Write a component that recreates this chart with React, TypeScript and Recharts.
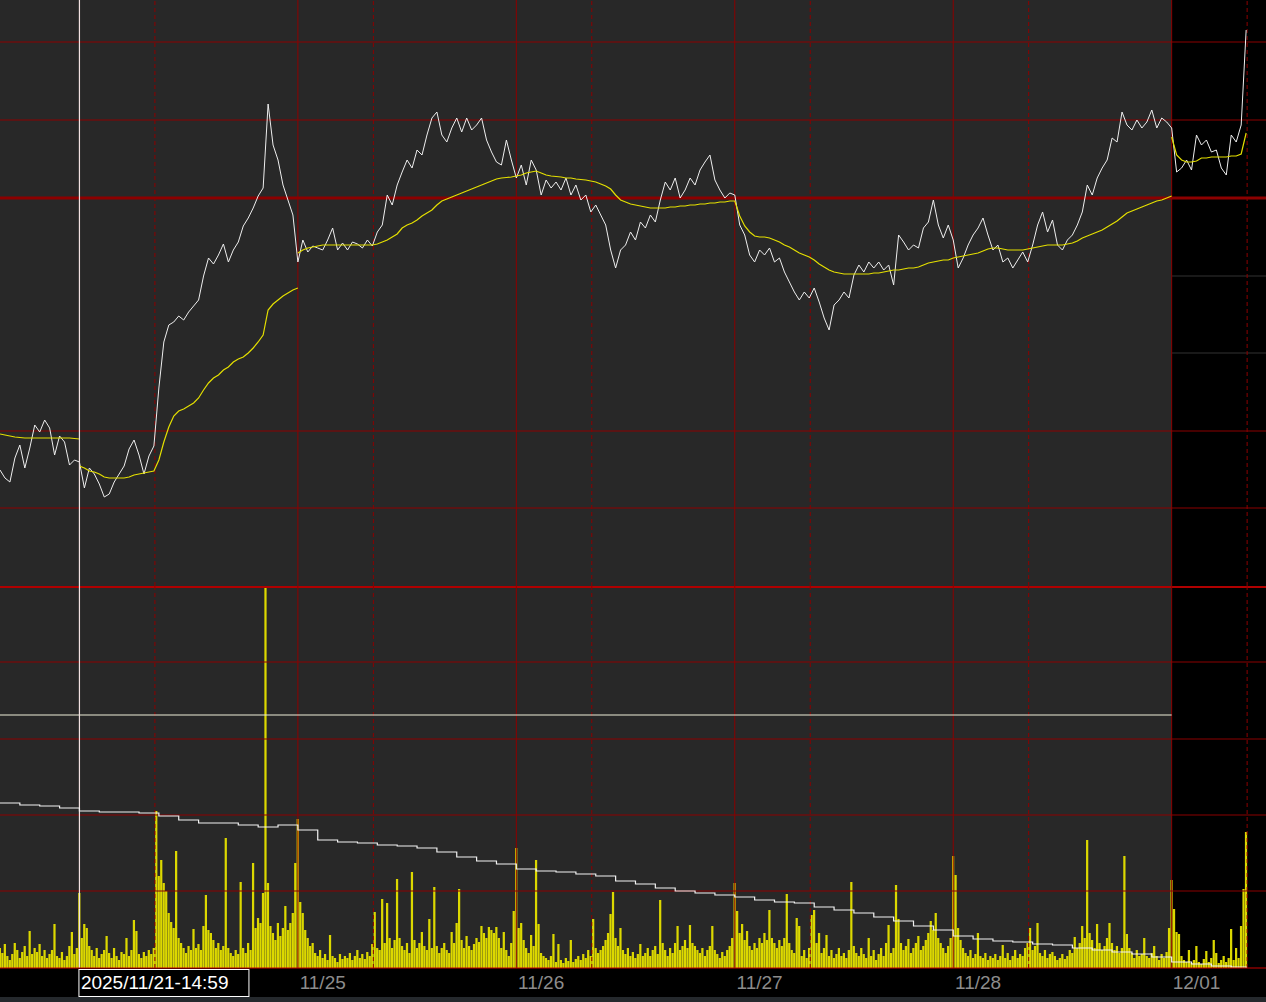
import { ComposedChart, Line, Bar, XAxis, YAxis, ReferenceLine, ReferenceArea } from "recharts"

// x axis is in time slots (about 5 px each), 44 slots per session
const SLOTS = 255
const cursorT = 16
const cursorLabel = "2025/11/21-14:59"
const sessionStarts = [60, 104, 148, 192, 236]
const sessionMarks = [31.2, 75.2, 119.2, 163.2, 207.2, 251.2]
const todayStart = 236
const dayTicks = [65, 109, 153, 197, 241]
const dayLabels = ["11/25", "11/26", "11/27", "11/28", "12/01"]

// price pane levels
const priceGrid = [1558, 1480, 1169, 1092]
const priceGridBold = 1402
const priceGridFaint = [1324, 1247]
// volume pane levels
const volGrid = [306, 229, 153, 77]
const volCursor = 253

// close price, one value per slot (t = 0..251)
const price = [
    1130, 1122, 1118, 1142, 1155, 1132, 1152, 1175, 1168, 1180, 1172, 1145, 1164, 1158, 1135, 1140,
    1138, 1112, 1132, 1126, 1116, 1103, 1106, 1118, 1126, 1134, 1151, 1160, 1145, 1126, 1144, 1154,
    1212, 1258, 1275, 1278, 1284, 1280, 1288, 1294, 1300, 1324, 1342, 1336, 1345, 1356, 1338, 1350,
    1358, 1374, 1382, 1392, 1404, 1412, 1496, 1455, 1440, 1415, 1400, 1385, 1338,
    1360, 1348, 1354, 1352, 1350, 1360, 1372, 1350, 1357, 1350, 1358, 1356, 1352, 1360, 1354,
    1368, 1375, 1405, 1395, 1415, 1428, 1440, 1432, 1450, 1445, 1465, 1482, 1488, 1465, 1458,
    1472, 1482, 1468, 1482, 1470, 1475, 1482, 1460, 1448, 1438, 1435, 1460, 1440, 1422,
    1435, 1415, 1440, 1430, 1405, 1420, 1412, 1418, 1410, 1422, 1405, 1415, 1400, 1405,
    1388, 1395, 1385, 1375, 1350, 1332, 1350, 1355, 1368, 1360, 1378, 1372, 1385, 1378, 1400,
    1418, 1410, 1422, 1402, 1410, 1422, 1415, 1430, 1438, 1445, 1420, 1410, 1402, 1407, 1405,
    1375, 1365, 1345, 1338, 1350, 1345, 1352, 1338, 1342, 1328, 1318, 1308, 1300, 1308, 1302,
    1312, 1298, 1282, 1270, 1295, 1300, 1308, 1302, 1325, 1335, 1328, 1338, 1332, 1338, 1330,
    1335, 1315, 1365, 1358, 1350, 1355, 1352, 1372, 1378, 1400, 1375, 1362, 1375, 1360,
    1332, 1342, 1355, 1365, 1372, 1382, 1365, 1350, 1355, 1338, 1342, 1332, 1340, 1348, 1338,
    1355, 1375, 1388, 1368, 1380, 1355, 1350, 1360, 1365, 1375, 1388, 1415, 1405, 1422, 1432,
    1440, 1462, 1458, 1488, 1475, 1470, 1480, 1472, 1478, 1490, 1472, 1482, 1478, 1472,
    1428, 1432, 1440, 1430, 1465, 1455, 1460, 1448, 1450, 1432, 1425, 1465, 1458, 1475, 1570,
]

// moving average, restarts at some session boundaries
const maA = [1166, 1165, 1164, 1163, 1162.5, 1162, 1162, 1162, 1162, 1162, 1162, 1162, 1162, 1162, 1162, 1161.5, 1161] // t 0..16
const maB = [
    1134, 1132, 1129, 1128, 1126, 1123, 1122, 1122, 1122, 1122, 1123, 1125, 1126, 1127, 1128, 1129,
    1140, 1158, 1173, 1184, 1189, 1191, 1194, 1197, 1202, 1210, 1217, 1222, 1225, 1230, 1233, 1238,
    1241, 1243, 1247, 1252, 1258, 1265, 1290, 1296, 1300, 1304, 1307, 1310, 1312,
] // t 16..60
const maC = [
    1347, 1350, 1352, 1353, 1354,
    1355, 1355, 1355, 1355, 1355, 1355, 1355, 1355, 1355, 1355, 1355,
    1356, 1358, 1360, 1363, 1366, 1372, 1375, 1377, 1380, 1384,
    1387, 1390, 1395, 1399, 1401, 1403, 1405, 1407, 1409, 1411,
    1413, 1415, 1417, 1419, 1421, 1422, 1422.5, 1423, 1424, 1425,
    1427, 1428, 1429, 1427, 1425, 1424, 1423.5, 1423, 1422, 1422,
    1421, 1420.5, 1420, 1419, 1418, 1416, 1414, 1411, 1405, 1400,
    1398, 1396, 1395, 1394, 1393, 1392, 1392, 1392, 1392, 1393,
    1393, 1394, 1394, 1395, 1395, 1396, 1396, 1397, 1397, 1398,
    1398, 1399, 1399,
    1384, 1374, 1368, 1364, 1363, 1363, 1362, 1360, 1358, 1355,
    1353, 1350, 1347, 1345, 1343, 1340, 1336, 1333, 1330, 1328,
    1327, 1326, 1326, 1326, 1326, 1326, 1326, 1327, 1327, 1328,
    1329, 1330, 1330, 1331, 1332, 1332, 1333, 1335, 1337, 1338,
    1339, 1340, 1340, 1342, 1343, 1344, 1345, 1346, 1347, 1349,
    1351, 1352, 1352, 1351, 1350, 1350, 1350, 1350, 1351, 1352,
    1353, 1354, 1355, 1355, 1355, 1355, 1356, 1357, 1359, 1362,
    1364, 1366, 1368, 1370, 1373, 1376, 1379, 1383, 1387, 1389,
    1391, 1393, 1395, 1397, 1399, 1400, 1402, 1404,
] // t 60..236
const maD = [1463, 1445, 1440, 1438, 1438, 1439, 1442, 1442, 1443, 1443, 1443, 1443, 1444, 1444, 1446, 1467] // t 236..251

// volume, two bars per slot (t = 0, 0.5, ... 251)
const volume = [
    20, 15, 24, 12, 8, 14, 25, 18, 10, 16, 22, 12, 37, 14, 20, 16, 24, 12, 18, 10,
    14, 18, 44, 12, 10, 16, 8, 12, 22, 36, 14, 20, 75, 30, 44, 40, 22, 18, 12, 20,
    10, 14, 18, 32, 15, 10, 20, 12, 8, 16, 14, 30, 12, 18, 48, 37, 14, 10, 16, 12,
    18, 14, 20, 157, 92, 108, 85, 77, 55, 46, 40, 117, 30, 25, 20, 15, 22, 18, 39, 20,
    24, 18, 42, 73, 38, 35, 28, 20, 25, 18, 22, 130, 20, 15, 12, 18, 14, 86, 20, 15,
    25, 18, 105, 40, 50, 45, 75, 382, 85, 42, 35, 28, 45, 32, 40, 62, 38, 45, 55, 105,
    149, 66, 55, 38, 30, 22, 25, 15, 12, 18, 10, 14, 8, 33, 12, 10, 6, 14, 9, 12,
    10, 15, 8, 12, 18, 10, 14, 9, 16, 12, 24, 56, 20, 18, 69, 25, 65, 30, 20, 28,
    89, 30, 22, 18, 25, 15, 96, 28, 20, 25, 36, 22, 18, 49, 20, 81, 22, 15, 20, 25,
    18, 15, 36, 25, 45, 79, 28, 20, 32, 22, 18, 24, 30, 26, 42, 35, 30, 41, 38, 35,
    41, 30, 20, 36, 18, 12, 25, 57, 120, 40, 45, 28, 20, 15, 33, 22, 108, 44, 15, 12,
    10, 8, 12, 34, 6, 24, 8, 5, 10, 7, 28, 6, 9, 12, 8, 14, 10, 18, 12, 49,
    20, 15, 18, 22, 28, 35, 54, 76, 30, 22, 40, 18, 14, 20, 12, 16, 10, 14, 24, 12,
    15, 20, 12, 18, 22, 14, 68, 25, 18, 12, 20, 15, 25, 42, 18, 22, 28, 20, 43, 25,
    22, 18, 15, 20, 12, 18, 22, 42, 18, 14, 10, 16, 12, 18, 22, 30, 85, 57, 35, 44,
    28, 37, 22, 18, 25, 20, 30, 25, 35, 28, 58, 30, 25, 20, 28, 22, 30, 74, 25, 18,
    15, 50, 42, 12, 18, 10, 20, 53, 58, 25, 35, 15, 20, 33, 12, 18, 10, 14, 20, 12,
    15, 10, 18, 86, 22, 15, 12, 20, 14, 10, 30, 12, 18, 8, 14, 20, 12, 25, 43, 15,
    20, 83, 49, 25, 18, 22, 29, 15, 20, 25, 32, 18, 22, 28, 35, 47, 38, 55, 30, 25,
    20, 15, 22, 30, 112, 93, 40, 28, 20, 15, 12, 18, 10, 14, 35, 12, 10, 15, 8, 12,
    10, 14, 8, 12, 23, 10, 15, 8, 12, 18, 10, 14, 12, 20, 25, 40, 18, 22, 45, 15,
    12, 18, 10, 14, 16, 12, 8, 10, 14, 9, 12, 18, 15, 31, 20, 25, 42, 30, 128, 35,
    28, 20, 44, 25, 18, 22, 30, 45, 25, 18, 22, 15, 20, 112, 34, 20, 15, 10, 18, 12,
    14, 30, 12, 10, 15, 22, 12, 8, 14, 10, 16, 40, 88, 59, 36, 34, 12, 8, 6, 18,
    5, 8, 22, 6, 4, 9, 17, 6, 10, 28, 15, 5, 8, 12, 6, 10, 39, 8, 20, 10, 42, 79, 136,
]

// open interest (white line in the volume pane)
const oiTimes = [
    0, 4, 8, 12, 16, 20, 24, 28, 32, 36, 40, 44, 48, 52, 56, 60, 64, 68, 72, 76, 80, 84, 88, 92, 96, 100,
    104, 108, 112, 116, 120, 124, 128, 132, 136, 140, 144, 148, 152, 156, 160, 164, 168, 172, 176, 180,
    184, 188, 192, 196, 200, 204, 208, 212, 216, 220, 224, 228, 232, 236, 240, 244, 248, 251,
]
const oiValues = [
    165, 163, 162, 160, 157, 156, 156, 155, 152, 148, 145, 145, 143, 141, 143, 138, 128, 126, 125, 123,
    122, 120, 116, 111, 107, 104, 99, 97, 96, 94, 92, 87, 84, 80, 77, 75, 73, 71, 68, 66, 65, 61, 58,
    55, 51, 47, 42, 38, 32, 29, 27, 26, 24, 23, 20, 18, 16, 14, 11, 6, 4, 2, 1, 0,
]

const priceRows = price.map((p, t) => ({
    t,
    price: p,
    maA: t <= 16 ? maA[t] : null,
    maB: t >= 16 && t <= 60 ? maB[t - 16] : null,
    maC: t >= 60 && t <= 236 ? maC[t - 60] : null,
    maD: t >= 236 ? maD[t - 236] : null,
}))

const volRows = volume.map((v, k) => {
    const t = k / 2
    const oi = oiTimes.indexOf(t)
    return { t, vol: v, oi: oi >= 0 ? oiValues[oi] : null }
})

const RED = "#8c0000"
const FONT = "'Liberation Sans', Arial, sans-serif"
const MA_COLOR = "#e4df00"

function AxisTick(props: any) {
    const { x, y, payload } = props
    if (payload.value === cursorT) {
        return (
            <g>
                <rect x={x - 0.5} y={y + 1.5} width={170} height={27} fill="#000" stroke="#fff" strokeWidth={1} />
                <text x={x + 1.5} y={y + 21} fill="#fff" fontSize={19} fontFamily={FONT}>{cursorLabel}</text>
            </g>
        )
    }
    const label = dayLabels[dayTicks.indexOf(payload.value)]
    return (
        <text x={x} y={y + 21} textAnchor="middle" fill="#8c8c8c" fontSize={19} fontFamily={FONT}>{label}</text>
    )
}

export default function App() {
    return (
        <div style={{ width: 1266, height: 1002, background: "#000", overflow: "hidden" }}>
            <style>{`body{margin:0;background:#000}`}</style>
            <ComposedChart width={1266} height={586} data={priceRows} margin={{ top: 0, right: 0, left: 0, bottom: 0 }}>
                <XAxis dataKey="t" type="number" domain={[0, SLOTS]} allowDataOverflow hide />
                <YAxis domain={[1014, 1600]} allowDataOverflow hide />
                <ReferenceArea x1={0} x2={todayStart} fill="#282828" fillOpacity={1} stroke="none" />
                {priceGridFaint.map((v) => (
                    <ReferenceLine key={v} segment={[{ x: todayStart, y: v }, { x: SLOTS, y: v }]} stroke="#333" strokeWidth={1} />
                ))}
                {priceGrid.map((v) => (
                    <ReferenceLine key={v} y={v} stroke={RED} strokeWidth={1} />
                ))}
                <ReferenceLine y={priceGridBold} stroke={RED} strokeWidth={3} />
                {sessionStarts.map((t) => (
                    <ReferenceLine key={t} x={t} stroke={RED} strokeWidth={1} />
                ))}
                {sessionMarks.map((t) => (
                    <ReferenceLine key={t} x={t} stroke={RED} strokeWidth={1} strokeDasharray="4 3" />
                ))}
                <Line dataKey="price" type="linear" stroke="#eeeeee" strokeWidth={1} dot={false} activeDot={false} isAnimationActive={false} />
                <Line dataKey="maA" type="linear" stroke={MA_COLOR} strokeWidth={1.2} dot={false} activeDot={false} isAnimationActive={false} />
                <Line dataKey="maB" type="linear" stroke={MA_COLOR} strokeWidth={1.2} dot={false} activeDot={false} isAnimationActive={false} />
                <Line dataKey="maC" type="linear" stroke={MA_COLOR} strokeWidth={1.2} dot={false} activeDot={false} isAnimationActive={false} />
                <Line dataKey="maD" type="linear" stroke={MA_COLOR} strokeWidth={1.2} dot={false} activeDot={false} isAnimationActive={false} />
                <ReferenceLine x={cursorT} stroke="#f2e2e2" strokeWidth={1.2} />
            </ComposedChart>
            <ComposedChart width={1266} height={411} data={volRows} margin={{ top: 0, right: 0, left: 0, bottom: 0 }}>
                <XAxis
                    dataKey="t"
                    type="number"
                    domain={[0, SLOTS]}
                    allowDataOverflow
                    height={29}
                    ticks={[cursorT, ...dayTicks]}
                    interval={0}
                    tick={<AxisTick />}
                    tickLine={false}
                    tickSize={0}
                    tickMargin={0}
                    axisLine={{ stroke: "#cc0000", strokeWidth: 1 }}
                />
                <YAxis domain={[0, 382]} allowDataOverflow hide />
                <ReferenceArea x1={0} x2={todayStart} fill="#282828" fillOpacity={1} stroke="none" />
                {volGrid.map((v) => (
                    <ReferenceLine key={v} y={v} stroke={RED} strokeWidth={1} />
                ))}
                <ReferenceLine y={381} stroke="#b00000" strokeWidth={2} />
                {sessionStarts.map((t) => (
                    <ReferenceLine key={t} x={t} stroke={RED} strokeWidth={1} />
                ))}
                {sessionMarks.map((t) => (
                    <ReferenceLine key={t} x={t} stroke={RED} strokeWidth={1} strokeDasharray="4 3" />
                ))}
                <ReferenceLine
                    segment={[{ x: 0, y: volCursor }, { x: todayStart, y: volCursor }]}
                    stroke="#eeeed8"
                    strokeWidth={1}
                />
                <ReferenceLine x={cursorT} stroke="#f2e2e2" strokeWidth={1.2} />
                <Bar dataKey="vol" fill="#dcd800" barSize={2.6} isAnimationActive={false} />
                <Line dataKey="oi" type="stepAfter" connectNulls stroke="#f2f2f2" strokeWidth={1.2} dot={false} activeDot={false} isAnimationActive={false} />
            </ComposedChart>
            <div style={{ height: 5, background: "#25292d" }} />
        </div>
    )
}
